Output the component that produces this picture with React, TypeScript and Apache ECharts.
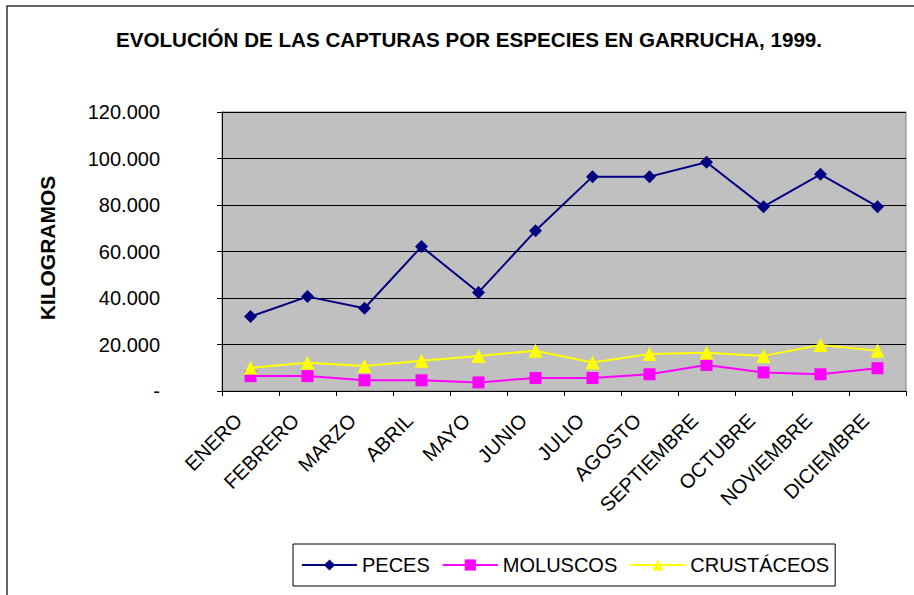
import React, { useEffect, useRef } from "react";
import * as echarts from "echarts";

const months = ["ENERO", "FEBRERO", "MARZO", "ABRIL", "MAYO", "JUNIO", "JULIO", "AGOSTO", "SEPTIEMBRE", "OCTUBRE", "NOVIEMBRE", "DICIEMBRE"];
const peces = [32000, 40600, 35600, 62100, 42400, 68900, 92200, 92200, 98400, 79300, 93200, 79300];
const moluscos = [6400, 6400, 4600, 4600, 3700, 5600, 5600, 7200, 11200, 8000, 7200, 9800];
const crustaceos = [10000, 12200, 10800, 13000, 15100, 17300, 12300, 15900, 16500, 15100, 19800, 17300];
const yTicks = [0, 20000, 40000, 60000, 80000, 100000, 120000];

const FONT = "'Liberation Sans', Arial, sans-serif";

function fmt(v: number): string {
  if (v === 0) return "-";
  return String(v).replace(/\B(?=(\d{3})+(?!\d))/g, ".");
}

export default function App() {
  const ref = useRef<HTMLDivElement>(null);
  useEffect(() => {
    if (!ref.current) return;
    const chart = echarts.init(ref.current, null, { renderer: "svg" });
    chart.setOption({
      animation: false,
      backgroundColor: "#ffffff",
      textStyle: { fontFamily: FONT },
      title: {
        text: "EVOLUCIÓN DE LAS CAPTURAS POR ESPECIES EN GARRUCHA, 1999.",
        left: 111,
        top: 24,
        textStyle: { fontSize: 20.6, fontWeight: "bold", color: "#000", fontFamily: FONT },
      },
      graphic: [
        {
          type: "rect",
          shape: { x: 7, y: 6, width: 950, height: 650 },
          style: { fill: "none", stroke: "#333", lineWidth: 1.5 },
          silent: true,
        },
        {
          type: "text",
          x: 47,
          y: 248,
          rotation: Math.PI / 2,
          style: {
            text: "KILOGRAMOS",
            fontSize: 21,
            fontWeight: "bold",
            fontFamily: FONT,
            fill: "#000",
            textAlign: "center",
            textVerticalAlign: "middle",
          },
        },
      ],
      legend: {
        left: 293,
        top: 544,
        orient: "horizontal",
        borderColor: "#000",
        borderWidth: 1,
        padding: [11, 6, 11, 8],
        itemWidth: 55,
        itemHeight: 14,
        itemGap: 12,
        textStyle: { fontSize: 20, color: "#000", fontFamily: FONT },
        data: ["PECES", "MOLUSCOS", "CRUSTÁCEOS"],
      },
      grid: {
        left: 222,
        top: 112,
        right: 8,
        bottom: 204,
        show: true,
        backgroundColor: "#C0C0C0",
        borderColor: "#808080",
        borderWidth: 1,
      },
      xAxis: {
        type: "category",
        data: months,
        boundaryGap: true,
        axisLine: { show: true, lineStyle: { color: "#000", width: 1 } },
        axisTick: { show: true, length: 5, lineStyle: { color: "#000" } },
        axisLabel: {
          rotate: 45,
          fontSize: 20,
          color: "#000",
          margin: 14,
          padding: [0, 17, 0, 0],
          fontFamily: FONT,
          interval: 0,
        },
      },
      yAxis: {
        type: "value",
        min: yTicks[0],
        max: yTicks[yTicks.length - 1],
        interval: 20000,
        axisLine: { show: true, lineStyle: { color: "#000", width: 1 } },
        axisTick: { show: true, length: 5, lineStyle: { color: "#000" } },
        splitLine: { show: true, lineStyle: { color: "#000", width: 1 } },
        axisLabel: { fontSize: 20, color: "#000", margin: 62, fontFamily: FONT, formatter: (v: number) => fmt(v) },
      },
      series: [
        {
          name: "PECES",
          type: "line",
          data: peces,
          symbol: "diamond",
          symbolSize: 13,
          itemStyle: { color: "#000080" },
          lineStyle: { color: "#000080", width: 2 },
        },
        {
          name: "MOLUSCOS",
          type: "line",
          data: moluscos,
          symbol: "rect",
          symbolSize: 12,
          itemStyle: { color: "#FF00FF" },
          lineStyle: { color: "#FF00FF", width: 2 },
        },
        {
          name: "CRUSTÁCEOS",
          type: "line",
          data: crustaceos,
          symbol: "triangle",
          symbolSize: 14,
          itemStyle: { color: "#FFFF00" },
          lineStyle: { color: "#FFFF00", width: 2 },
        },
      ],
    });
    return () => chart.dispose();
  }, []);
  return (
    <div
      ref={ref}
      style={{ position: "fixed", left: 0, top: 0, width: 914, height: 595 }}
    />
  );
}
